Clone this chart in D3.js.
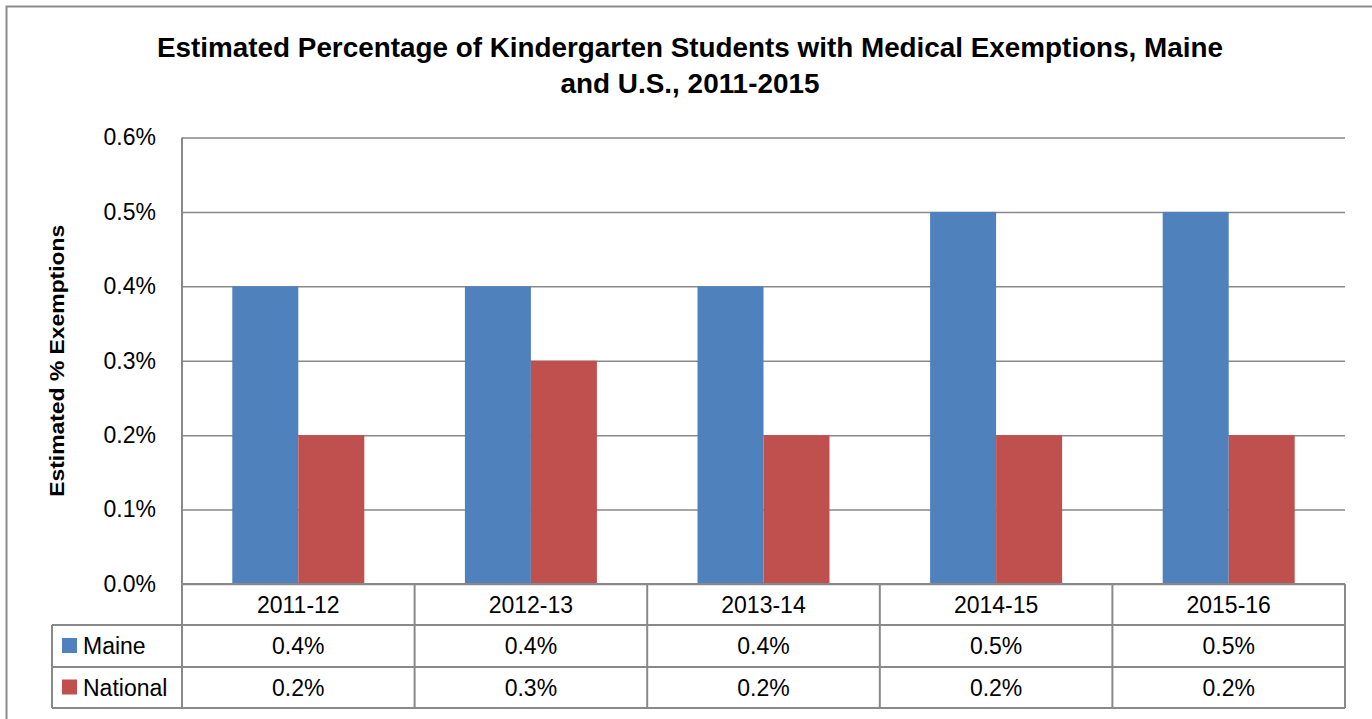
<!DOCTYPE html>
<html>
<head>
<meta charset="utf-8">
<script src="https://cdn.jsdelivr.net/npm/d3@7"></script>
<style>
  body { margin: 0; background: #fff; }
  svg { display: block; font-family: "Liberation Sans", Arial, sans-serif; }
</style>
</head>
<body>
<div id="chart"></div>
<script>
'use strict';

// values
var categories = ["2011-12", "2012-13", "2013-14", "2014-15", "2015-16"];
var seriesNames = ["Maine", "National"];
var maineValues = [0.4, 0.4, 0.4, 0.5, 0.5];
var nationalValues = [0.2, 0.3, 0.2, 0.2, 0.2];
var seriesColors = ["#4F81BD", "#C0504D"];
var yTicks = [0, 0.1, 0.2, 0.3, 0.4, 0.5, 0.6];
var titleLines = ["Estimated Percentage of Kindergarten Students with Medical Exemptions, Maine",
                  "and U.S., 2011-2015"];
var yLabel = "Estimated % Exemptions";

var W = 1372, H = 719;
var plot = {left: 182, right: 1345, top: 137.5, bottom: 584};
var rowH = [41, 42, 41];   // category row, Maine row, National row
var legendLeft = 52;
var gridColor = "#898989";
var fs = 23;

var svg = d3.select("#chart").append("svg")
  .attr("width", W)
  .attr("height", H);

// outer chart frame (runs past right/bottom edges in the reference)
svg.append("rect")
  .attr("x", 6.5).attr("y", 6.5)
  .attr("width", W + 10).attr("height", H + 10)
  .attr("fill", "none")
  .attr("stroke", "#8c8c8c")
  .attr("stroke-width", 2);

// title
svg.selectAll(".title")
  .data(titleLines)
  .enter().append("text")
  .attr("class", "title")
  .attr("x", 690)
  .attr("y", function(d, i) { return 57 + i * 36; })
  .attr("text-anchor", "middle")
  .attr("font-weight", "bold")
  .attr("font-size", 27)
  .attr("textLength", function(d, i) { return i === 0 ? 1066 : 259; })
  .attr("lengthAdjust", "spacingAndGlyphs")
  .text(function(d) { return d; });

var x0 = d3.scaleBand()
  .domain(categories)
  .range([plot.left, plot.right])
  .paddingInner(0.4325)
  .paddingOuter(0.4325 / 2);

var x1 = d3.scaleBand()
  .domain(seriesNames)
  .range([0, x0.bandwidth()]);

var y = d3.scaleLinear()
  .domain([0, 0.6])
  .range([plot.bottom, plot.top]);

// gridlines + tick labels
var yAxis = svg.append("g")
  .attr("transform", "translate(" + plot.left + ",0)")
  .call(d3.axisLeft(y)
    .tickValues(yTicks)
    .tickSize(-(plot.right - plot.left))
    .tickPadding(26)
    .tickFormat(function(d) { return d.toFixed(1) + "%"; }));
yAxis.select(".domain").remove();
yAxis.selectAll(".tick line")
  .attr("stroke", gridColor)
  .attr("stroke-width", 1.5);
yAxis.selectAll(".tick text")
  .attr("fill", "#000")
  .attr("font-size", fs)
  .attr("font-family", "Liberation Sans, Arial, sans-serif");

// bars
var rows = categories.map(function(c, i) {
  return {cat: c, values: [maineValues[i], nationalValues[i]]};
});

var groups = svg.selectAll(".group")
  .data(rows)
  .enter().append("g")
  .attr("class", "group")
  .attr("transform", function(d) { return "translate(" + x0(d.cat) + ",0)"; });

groups.selectAll("rect")
  .data(function(d) { return d.values.map(function(v, j) { return {name: seriesNames[j], value: v, j: j}; }); })
  .enter().append("rect")
  .attr("x", function(d) { return x1(d.name); })
  .attr("width", x1.bandwidth())
  .attr("y", function(d) { return y(d.value); })
  .attr("height", function(d) { return plot.bottom - y(d.value); })
  .attr("fill", function(d) { return seriesColors[d.j]; });

// y axis title
svg.append("text")
  .attr("transform", "translate(64," + ((plot.top + plot.bottom) / 2) + ") rotate(-90)")
  .attr("text-anchor", "middle")
  .attr("font-weight", "bold")
  .attr("font-size", 20)
  .attr("textLength", 272)
  .attr("lengthAdjust", "spacingAndGlyphs")
  .text(yLabel);

// data table
var rowTop = [plot.bottom, plot.bottom + rowH[0], plot.bottom + rowH[0] + rowH[1]];
var tableBottom = rowTop[2] + rowH[2];
var tbl = svg.append("g")
  .attr("stroke", gridColor)
  .attr("stroke-width", 2)
  .attr("fill", "none");

// vertical axis line from plot top to table bottom
tbl.append("line")
  .attr("x1", plot.left).attr("x2", plot.left)
  .attr("y1", plot.top).attr("y2", tableBottom);

// column separators
var colEdges = categories.map(function(c) { return x0(c) - x0.step() * x0.paddingInner() / 2; })
  .concat([plot.right]);
tbl.selectAll(".col")
  .data(colEdges.slice(1))
  .enter().append("line")
  .attr("x1", function(d) { return d; }).attr("x2", function(d) { return d; })
  .attr("y1", plot.bottom).attr("y2", tableBottom);

// horizontal lines
tbl.append("line")
  .attr("x1", plot.left).attr("x2", plot.right)
  .attr("y1", plot.bottom).attr("y2", plot.bottom);
[rowTop[1], rowTop[2], tableBottom].forEach(function(yy) {
  tbl.append("line")
    .attr("x1", legendLeft).attr("x2", plot.right)
    .attr("y1", yy).attr("y2", yy);
});
tbl.append("line")
  .attr("x1", legendLeft).attr("x2", legendLeft)
  .attr("y1", rowTop[1]).attr("y2", tableBottom);

// category labels
svg.selectAll(".cat")
  .data(categories)
  .enter().append("text")
  .attr("class", "cat")
  .attr("x", function(d) { return x0(d) + x0.bandwidth() / 2; })
  .attr("y", rowTop[0] + 29)
  .attr("text-anchor", "middle")
  .attr("font-size", fs)
  .text(function(d) { return d; });

// series rows
var seriesRows = [maineValues, nationalValues];
seriesRows.forEach(function(vals, j) {
  var top = rowTop[j + 1];
  var h = rowH[j + 1];
  svg.append("rect")
    .attr("x", 62).attr("y", top + h / 2 - 8)
    .attr("width", 15).attr("height", 15)
    .attr("fill", seriesColors[j]);
  svg.append("text")
    .attr("x", 83).attr("y", top + h / 2 + 8)
    .attr("font-size", fs)
    .text(seriesNames[j]);
  svg.selectAll(".val" + j)
    .data(vals)
    .enter().append("text")
    .attr("class", "val" + j)
    .attr("x", function(d, i) { return x0(categories[i]) + x0.bandwidth() / 2; })
    .attr("y", top + h / 2 + 8)
    .attr("text-anchor", "middle")
    .attr("font-size", fs)
    .text(function(d) { return d.toFixed(1) + "%"; });
});
</script>
</body>
</html>
